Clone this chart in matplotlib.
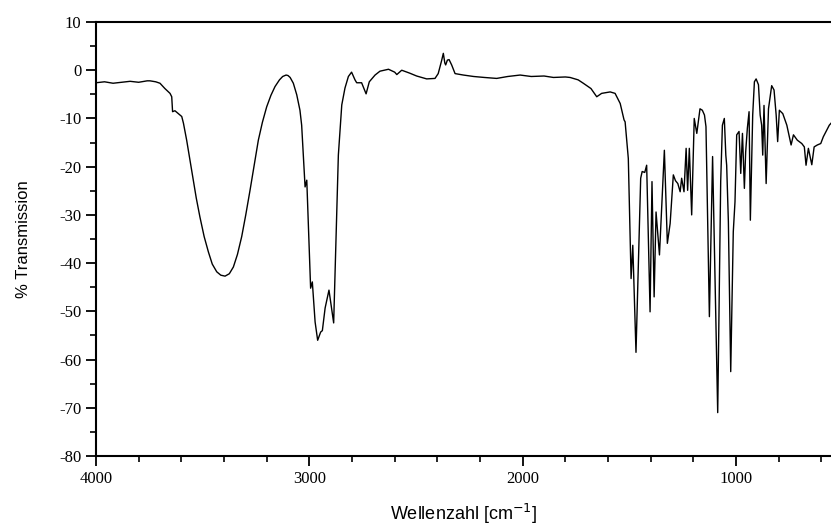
import matplotlib
matplotlib.use("Agg")
import matplotlib.pyplot as plt
from matplotlib.ticker import MultipleLocator

plt.rcParams["axes.unicode_minus"] = False

# IR spectrum, wavenumber [cm^-1] vs. transmission [%]
wavenumber = [
    4000, 3960, 3920, 3880, 3840, 3800, 3760, 3747, 3720, 3700, 3677, 3653,
    3645, 3641, 3630, 3614, 3598, 3590, 3575, 3560, 3544, 3530, 3513, 3493,
    3473, 3455, 3434, 3415, 3395, 3375, 3356, 3337, 3317, 3298, 3278, 3258,
    3239, 3220, 3200, 3180, 3161, 3140, 3125, 3109, 3100, 3090, 3075, 3059,
    3044, 3036, 3025, 3020, 3012, 3005, 2994, 2986, 2973, 2961, 2947, 2939,
    2926, 2908, 2898, 2886, 2876, 2864, 2848, 2833, 2817, 2802, 2786, 2778,
    2755, 2734, 2719, 2692, 2669, 2629, 2600, 2590, 2567, 2530, 2497, 2450,
    2411, 2396, 2380, 2372, 2365, 2361, 2353, 2345, 2333, 2317, 2278, 2230,
    2180, 2122, 2070, 2012, 1960, 1900, 1856, 1800, 1778, 1740, 1716, 1680,
    1653, 1630, 1590, 1567, 1543, 1525, 1520, 1505, 1492, 1484, 1469, 1447,
    1440, 1428, 1419, 1403, 1394, 1384, 1375, 1359, 1336, 1322, 1309, 1294,
    1284, 1273, 1262, 1255, 1244, 1234, 1227, 1219, 1208, 1196, 1184, 1169,
    1158, 1148, 1141, 1125, 1110, 1098, 1086, 1072, 1064, 1055, 1048, 1044,
    1036, 1025, 1013, 1005, 997, 986, 978, 970, 961, 955, 947, 939,
    933, 922, 914, 906, 895, 887, 880, 875, 869, 859, 848, 833,
    822, 812, 805, 797, 781, 762, 742, 731, 713, 692, 680, 672,
    661, 645, 634, 619, 603, 591, 575, 563, 555,
]
transmission = [
    -2.6, -2.4, -2.7, -2.5, -2.3, -2.5, -2.2, -2.2, -2.4, -2.7, -3.8, -4.8,
    -5.5, -8.6, -8.4, -9.0, -9.6, -11.0, -14.5, -18.5, -22.8, -26.5, -30.4, -34.5,
    -37.7, -40.2, -41.8, -42.5, -42.7, -42.2, -40.8, -38.2, -34.5, -30.0, -24.9, -19.5,
    -14.5, -10.8, -7.6, -5.2, -3.4, -2.0, -1.3, -1.0, -1.1, -1.5, -2.7, -5.1,
    -8.3, -11.4, -20.3, -24.2, -22.8, -31.4, -45.2, -43.9, -52.2, -56.0, -54.3, -54.0,
    -49.3, -45.6, -48.7, -52.4, -36.9, -17.6, -7.2, -3.7, -1.3, -0.4, -2.0, -2.6,
    -2.6, -4.9, -2.4, -1.0, -0.2, 0.2, -0.4, -0.9, 0.0, -0.6, -1.2, -1.8,
    -1.7, -0.7, 2.0, 3.5, 1.5, 1.1, 2.1, 2.2, 1.1, -0.7, -1.0, -1.3,
    -1.5, -1.7, -1.3, -1.0, -1.3, -1.2, -1.5, -1.4, -1.5, -2.0, -2.7, -3.8,
    -5.5, -4.8, -4.5, -4.8, -6.9, -10.3, -10.7, -18.3, -43.2, -36.3, -58.5, -22.4,
    -21.0, -21.2, -19.7, -50.1, -23.1, -47.0, -29.4, -38.3, -16.6, -35.9, -31.8, -21.7,
    -22.9, -23.5, -25.2, -22.4, -25.2, -16.2, -24.9, -16.2, -30.0, -10.0, -13.1, -8.0,
    -8.3, -9.3, -11.7, -51.1, -17.9, -43.9, -71.0, -23.1, -11.4, -10.0, -17.6, -19.7,
    -31.4, -62.5, -33.5, -27.3, -13.4, -12.7, -21.4, -13.1, -24.5, -17.0, -12.0, -8.6,
    -31.1, -9.3, -2.4, -1.8, -3.0, -9.3, -11.4, -17.6, -7.3, -23.5, -8.0, -3.2,
    -4.1, -9.3, -14.8, -8.3, -9.0, -11.4, -15.5, -13.4, -14.5, -15.2, -15.9, -19.7,
    -16.2, -19.6, -15.9, -15.5, -15.2, -13.8, -12.4, -11.4, -11.0,
]

fig = plt.figure(figsize=(8.31, 5.25), dpi=100)
ax = fig.add_axes([0.1155, 0.1314, 0.8845, 0.8267])

ax.plot(wavenumber, transmission, color="black", lw=1.0)

ax.set_xlim(4000, 555)
ax.set_ylim(-80, 10)
ax.xaxis.set_major_locator(MultipleLocator(1000))
ax.xaxis.set_minor_locator(MultipleLocator(200))
ax.yaxis.set_major_locator(MultipleLocator(10))
ax.yaxis.set_minor_locator(MultipleLocator(5))

ax.spines["right"].set_visible(False)
for s in ["left", "bottom", "top"]:
    ax.spines[s].set_linewidth(1.5)

ax.tick_params(which="major", direction="out", length=7, width=1.3,
               labelsize=12, top=False, right=False)
ax.tick_params(which="minor", direction="out", length=4, width=1.2,
               top=False, right=False)
for lab in ax.get_xticklabels() + ax.get_yticklabels():
    lab.set_fontfamily("Liberation Serif")

ax.set_xlabel("Wellenzahl [cm$^{-1}$]", fontsize=13, family="Liberation Sans",
              labelpad=11)
ax.set_ylabel("% Transmission", fontsize=12, family="Liberation Sans",
              labelpad=20)

fig.savefig("out.png", dpi=100)
